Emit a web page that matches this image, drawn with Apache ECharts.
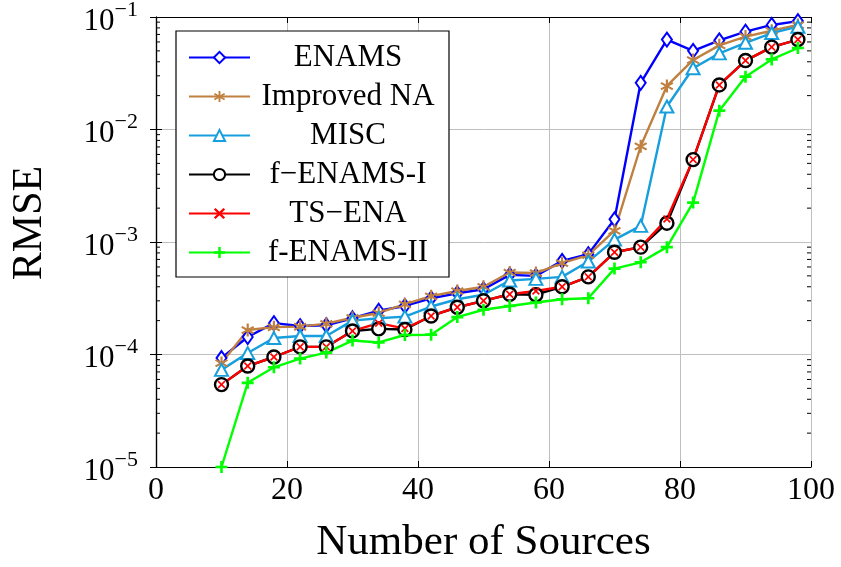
<!DOCTYPE html>
<html>
<head>
<meta charset="utf-8">
<script src="https://cdn.jsdelivr.net/npm/echarts@6/dist/echarts.min.js"></script>
<style>
html,body{margin:0;padding:0;background:#fff;}
#chart{width:841px;height:567px;}
</style>
</head>
<body>
<div id="chart"></div>
<script>
// ---- data ----
const sources = [10,14,18,22,26,30,34,38,42,46,50,54,58,62,66,70,74,78,82,86,90,94,98];
const enams = [9.3e-5,1.43e-4,1.9e-4,1.79e-4,1.82e-4,2.1e-4,2.45e-4,2.7e-4,3.15e-4,3.5e-4,3.8e-4,5.1e-4,5.0e-4,6.8e-4,7.8e-4,1.59e-3,2.6e-2,6.3e-2,5.0e-2,6.2e-2,7.4e-2,8.5e-2,9.2e-2];
const improvedNA = [8.4e-5,1.65e-4,1.75e-4,1.77e-4,1.88e-4,2.12e-4,2.34e-4,2.8e-4,3.3e-4,3.67e-4,4.0e-4,5.35e-4,5.3e-4,6.5e-4,7.65e-4,1.26e-3,7.1e-3,2.44e-2,4.15e-2,5.6e-2,6.7e-2,7.55e-2,8.5e-2];
const misc = [7.3e-5,1.03e-4,1.4e-4,1.46e-4,1.46e-4,2.0e-4,2.1e-4,2.17e-4,2.67e-4,3.1e-4,3.4e-4,4.55e-4,4.7e-4,4.9e-4,6.7e-4,1.05e-3,1.39e-3,1.6e-2,3.5e-2,4.75e-2,5.9e-2,7.2e-2,8.2e-2];
const fEnamsI = [5.4e-5,7.9e-5,9.5e-5,1.17e-4,1.17e-4,1.62e-4,1.69e-4,1.67e-4,2.2e-4,2.63e-4,3.0e-4,3.43e-4,3.4e-4,4.0e-4,4.9e-4,8.1e-4,9.0e-4,1.47e-3,5.4e-3,2.49e-2,4.1e-2,5.4e-2,6.3e-2];
const tsEna = [5.4e-5,7.9e-5,9.5e-5,1.17e-4,1.17e-4,1.62e-4,1.9e-4,1.7e-4,2.2e-4,2.63e-4,3.0e-4,3.43e-4,3.67e-4,4.0e-4,4.9e-4,8.1e-4,9.0e-4,1.6e-3,5.4e-3,2.49e-2,4.1e-2,5.4e-2,6.3e-2];
const fEnamsII = [1.0e-5,5.6e-5,7.7e-5,9.2e-5,1.04e-4,1.33e-4,1.28e-4,1.49e-4,1.5e-4,2.15e-4,2.5e-4,2.7e-4,2.9e-4,3.1e-4,3.16e-4,5.8e-4,6.6e-4,9.0e-4,2.24e-3,1.47e-2,2.95e-2,4.2e-2,5.3e-2];
const seriesNames = ['ENAMS','Improved NA','MISC','f\u2212ENAMS-I','TS\u2212ENA','f-ENAMS-II'];
const xTicks = [0,20,40,60,80,100];
const yTickExponents = [-5,-4,-3,-2,-1];

// ---- styling ----
const FONT = '"Liberation Serif", "DejaVu Serif", serif';
const xMin = xTicks[0], xMax = xTicks[xTicks.length-1];
const eMin = yTickExponents[0], eMax = yTickExponents[yTickExponents.length-1];
const yMin = Math.pow(10, eMin), yMax = Math.pow(10, eMax);
// minor tick positions (2..9 x 10^e) on the log axis
const minorVals = [];
for (let e = eMin; e < eMax; e++) {
  for (let k = 2; k <= 9; k++) minorVals.push(k * Math.pow(10, e));
}
const SYM_ASTERISK = 'path://M42 0 L58 0 L58 100 L42 100 Z M2.7 32.9 L10.7 19.1 L97.3 69.1 L89.3 82.9 Z M10.7 82.9 L2.7 69.1 L89.3 19.1 L97.3 32.9 Z';
const SYM_X = 'path://M0 15 L15 0 L50 35 L85 0 L100 15 L65 50 L100 85 L85 100 L50 65 L15 100 L0 85 L35 50 Z';
const SYM_PLUS = 'path://M39 0 L61 0 L61 39 L100 39 L100 61 L61 61 L61 100 L39 100 L39 61 L0 61 L0 39 L39 39 Z';

function pairs(ys){ return sources.map((x,i)=>[x, ys[i]]); }

function yLabel(v){
  const e = Math.round(Math.log10(v));
  if (yTickExponents.indexOf(e) < 0) return '';
  return '{b|10}{s|\u2212' + Math.abs(e) + '}';
}

const baseAxisLine = {show:true, lineStyle:{color:'#000', width:1.2}};
const LW = 2.4;

const option = {
  backgroundColor:'#fff',
  animation:false,
  grid:{left:156, right:30, top:17, bottom:100, outerBoundsMode:'none', containLabel:false},
  xAxis:[
    {type:'value', min:xMin, max:xMax, interval:20, position:'bottom',
     axisLine:baseAxisLine,
     axisTick:{show:true, inside:true, length:6, lineStyle:{color:'#000'}},
     axisLabel:{fontFamily:FONT, fontSize:32, color:'#000', margin:8, formatter:(v)=> xTicks.indexOf(v)>=0 ? String(v) : ''},
     splitLine:{show:true, lineStyle:{color:'#bfbfbf', width:1}},
     name:'Number of Sources', nameLocation:'middle', nameGap:54,
     nameTextStyle:{fontFamily:FONT, fontSize:43, color:'#000'}},
    {type:'value', min:xMin, max:xMax, interval:20, position:'top',
     axisLine:baseAxisLine,
     axisTick:{show:true, inside:true, length:6, lineStyle:{color:'#000'}},
     axisLabel:{show:false}, splitLine:{show:false}}
  ],
  yAxis:[
    {type:'log', logBase:10, min:yMin, max:yMax, position:'left',
     axisLine:baseAxisLine,
     axisTick:{show:true, inside:true, length:6, lineStyle:{color:'#000'}},
     axisLabel:{color:'#000', margin:18, formatter:yLabel, padding:[6,0,0,0],
       rich:{b:{fontFamily:FONT, fontSize:31, color:'#000', lineHeight:34, verticalAlign:'bottom'},
             s:{fontFamily:FONT, fontSize:22, color:'#000', lineHeight:22, verticalAlign:'bottom', padding:[0,0,16,0]}}},
     splitLine:{show:true, lineStyle:{color:'#bfbfbf', width:1}},
     name:'RMSE', nameLocation:'middle', nameGap:105, nameRotate:90,
     nameTextStyle:{fontFamily:FONT, fontSize:42, color:'#000', padding:[0,0,0,38]}},
    {type:'log', logBase:10, min:yMin, max:yMax, position:'right',
     axisLine:baseAxisLine,
     axisTick:{show:true, inside:true, length:6, lineStyle:{color:'#000'}},
     axisLabel:{show:false}, splitLine:{show:false}}
  ],
  legend:{
    orient:'vertical', left:176, top:31,
    padding:[11,8,9,12], itemGap:8, itemWidth:61, itemHeight:14,
    backgroundColor:'#fff', borderColor:'#000', borderWidth:1.2,
    data:seriesNames,
    formatter:(n)=>'{t|'+n+'}',
    textStyle:{rich:{t:{fontFamily:FONT, fontSize:31, color:'#000', width:186, align:'center', lineHeight:30}}}
  },
  series:[
    {name:'minorTicks', type:'custom', silent:true, clip:false, z:5,
     data:minorVals.map(v=>[xMin, v]),
     encode:{x:0, y:1},
     renderItem:function(params, api){
       const v = api.value(1);
       const L = api.coord([xMin, v]);
       const R = api.coord([xMax, v]);
       const st = {stroke:'#000', lineWidth:1};
       return {type:'group', children:[
         {type:'line', shape:{x1:L[0], y1:L[1], x2:L[0]+4, y2:L[1]}, style:st},
         {type:'line', shape:{x1:R[0]-4, y1:R[1], x2:R[0], y2:R[1]}, style:st}
       ]};
     }},
    {name:seriesNames[0], type:'line', data:pairs(enams),
     lineStyle:{width:LW, color:'#0000ff'}, symbol:'diamond', symbolSize:[10,14],
     itemStyle:{color:'#fff', borderColor:'#0000ff', borderWidth:2}},
    {name:seriesNames[1], type:'line', data:pairs(improvedNA),
     lineStyle:{width:LW, color:'#bf8040'}, symbol:SYM_ASTERISK, symbolSize:13,
     itemStyle:{color:'#bf8040', borderWidth:0}},
    {name:seriesNames[2], type:'line', data:pairs(misc),
     lineStyle:{width:LW, color:'#169fdc'}, symbol:'triangle', symbolSize:[13,12],
     itemStyle:{color:'#fff', borderColor:'#169fdc', borderWidth:2}},
    {name:seriesNames[3], type:'line', data:pairs(fEnamsI),
     lineStyle:{width:LW, color:'#000'}, symbol:'circle', symbolSize:13,
     itemStyle:{color:'#fff', borderColor:'#000', borderWidth:2.4}},
    {name:seriesNames[4], type:'line', data:pairs(tsEna),
     lineStyle:{width:LW, color:'#ff0000'}, symbol:SYM_X, symbolSize:8,
     itemStyle:{color:'#ff0000', borderWidth:0}},
    {name:seriesNames[5], type:'line', data:pairs(fEnamsII),
     lineStyle:{width:LW, color:'#00ff00'}, symbol:SYM_PLUS, symbolSize:12,
     itemStyle:{color:'#00ff00', borderWidth:0}}
  ]
};
const chart = echarts.init(document.getElementById('chart'), null, {renderer:'canvas'});
chart.setOption(option);
</script>
</body>
</html>
